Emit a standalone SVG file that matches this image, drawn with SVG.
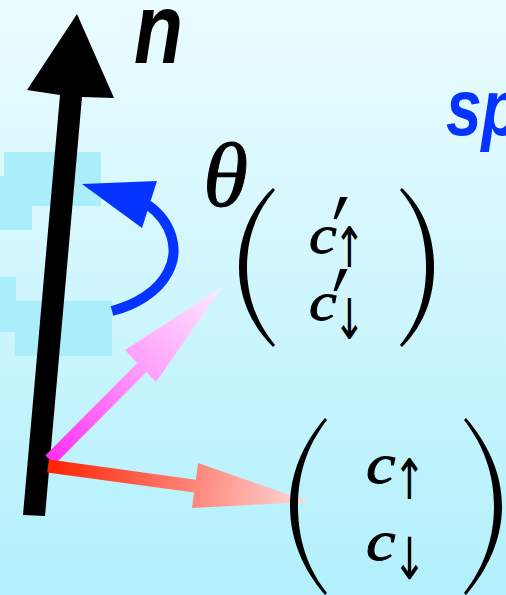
<svg xmlns="http://www.w3.org/2000/svg" width="506" height="595" viewBox="0 0 506 595">
<defs>
<linearGradient id="bg" x1="0" y1="0" x2="0" y2="1">
<stop offset="0" stop-color="#ebfcff"/>
<stop offset="1" stop-color="#b2f0fc"/>
</linearGradient>
<linearGradient id="pink" gradientUnits="userSpaceOnUse" x1="50" y1="460" x2="222" y2="287">
<stop offset="0" stop-color="#ff2ef0"/>
<stop offset="0.5" stop-color="#ff99fa"/>
<stop offset="1" stop-color="#ffeaff"/>
</linearGradient>
<linearGradient id="red" gradientUnits="userSpaceOnUse" x1="48" y1="466" x2="310" y2="502">
<stop offset="0" stop-color="#ff2200"/>
<stop offset="0.5" stop-color="#ff7b6e"/>
<stop offset="1" stop-color="#ffdcdc"/>
</linearGradient>
<style>
.blk{fill:#a9eefa}
.paren{fill:#000}
.math{font-family:"Liberation Serif","Times New Roman",serif;font-style:italic;fill:#000;stroke:#000;stroke-width:0.9}
.prime{font-family:"DejaVu Sans",sans-serif;fill:#000}
.arr{font-family:"DejaVu Sans",sans-serif;fill:#000;text-anchor:middle}
.bold{font-family:"Liberation Sans",Arial,sans-serif;font-weight:bold;font-style:italic}
</style>
</defs>
<rect width="506" height="595" fill="url(#bg)"/>
<g id="blocks">
<rect class="blk" x="4" y="152" width="97" height="54"/>
<rect class="blk" x="0" y="176" width="32" height="54"/>
<rect class="blk" x="0" y="277" width="16" height="55"/>
<rect class="blk" x="15" y="301" width="97" height="55"/>
</g>
<g id="connectors">
<path d="M148,205 C172,222 180,250 168,272 C158,292 135,305 112,311" fill="none" stroke="#0533ff" stroke-width="10"/>
<polygon points="82,184 157,181 142,228" fill="#0533ff"/>
<polygon points="60,95 27,90 77,14 114,98 82,97 45,516 23,515" fill="#000"/>
<polygon points="45.4,455.4 137.3,362.9 125,350 222,287 156,382 146.5,372.1 54.6,464.6" fill="url(#pink)"/>
<polygon points="48.9,459.6 195.9,479.8 198,463 310,502 192,508 194.1,492.6 47.1,472.4" fill="url(#red)"/>
</g>
<g id="label-n">
<text class="bold" transform="translate(134,63) scale(0.8,1)" font-size="100" fill="#000">n</text>
</g>
<g id="label-spin">
<text class="bold" transform="translate(446,135) scale(0.8,1)" font-size="80" fill="#0533ff">sp</text>
</g>
<g id="label-theta">
<text class="math" x="203" y="206" font-size="92" stroke-width="0">θ</text>
</g>
<g id="matrix-prime">
<path class="paren" d="M273,188 C250,210 239,238 239,267 C239,296 250,324 273,347 L275,345 C256,322 247,296 247,267 C247,238 256,212 275,190 Z"/>
<path class="paren" d="M402,188 C425,210 434,238 434,267 C434,296 425,324 402,347 L400,345 C419,322 426,296 426,267 C426,238 419,212 400,190 Z"/>
<text class="math" transform="translate(309,253) scale(1.12,1)" font-size="56">c</text>
<text class="prime" transform="translate(332,284) scale(0.65,1)" font-size="119">′</text>
<text class="arr" transform="translate(349.5,267) scale(0.68,1)" font-size="56">↑</text>
<text class="math" transform="translate(309,320) scale(1.12,1)" font-size="56">c</text>
<text class="prime" transform="translate(332,356) scale(0.65,1)" font-size="119">′</text>
<text class="arr" transform="translate(349.5,339) scale(0.68,1)" font-size="56">↓</text>
</g>
<g id="matrix">
<path class="paren" d="M325,418 C302,445 290,475 290,506 C290,538 302,568 325,595 L327,593 C306,566 298,537 298,506 C298,476 306,447 327,420 Z"/>
<path class="paren" d="M466,418 C489,445 502,475 502,506 C502,538 489,568 466,595 L464,593 C485,566 494,537 494,506 C494,476 485,447 464,420 Z"/>
<text class="math" transform="translate(366,483) scale(1.15,1)" font-size="58">c</text>
<text class="arr" transform="translate(409.5,499) scale(0.7,1)" font-size="56">↑</text>
<text class="math" transform="translate(366,560) scale(1.15,1)" font-size="58">c</text>
<text class="arr" transform="translate(409.5,579) scale(0.7,1)" font-size="58">↓</text>
</g>
</svg>
